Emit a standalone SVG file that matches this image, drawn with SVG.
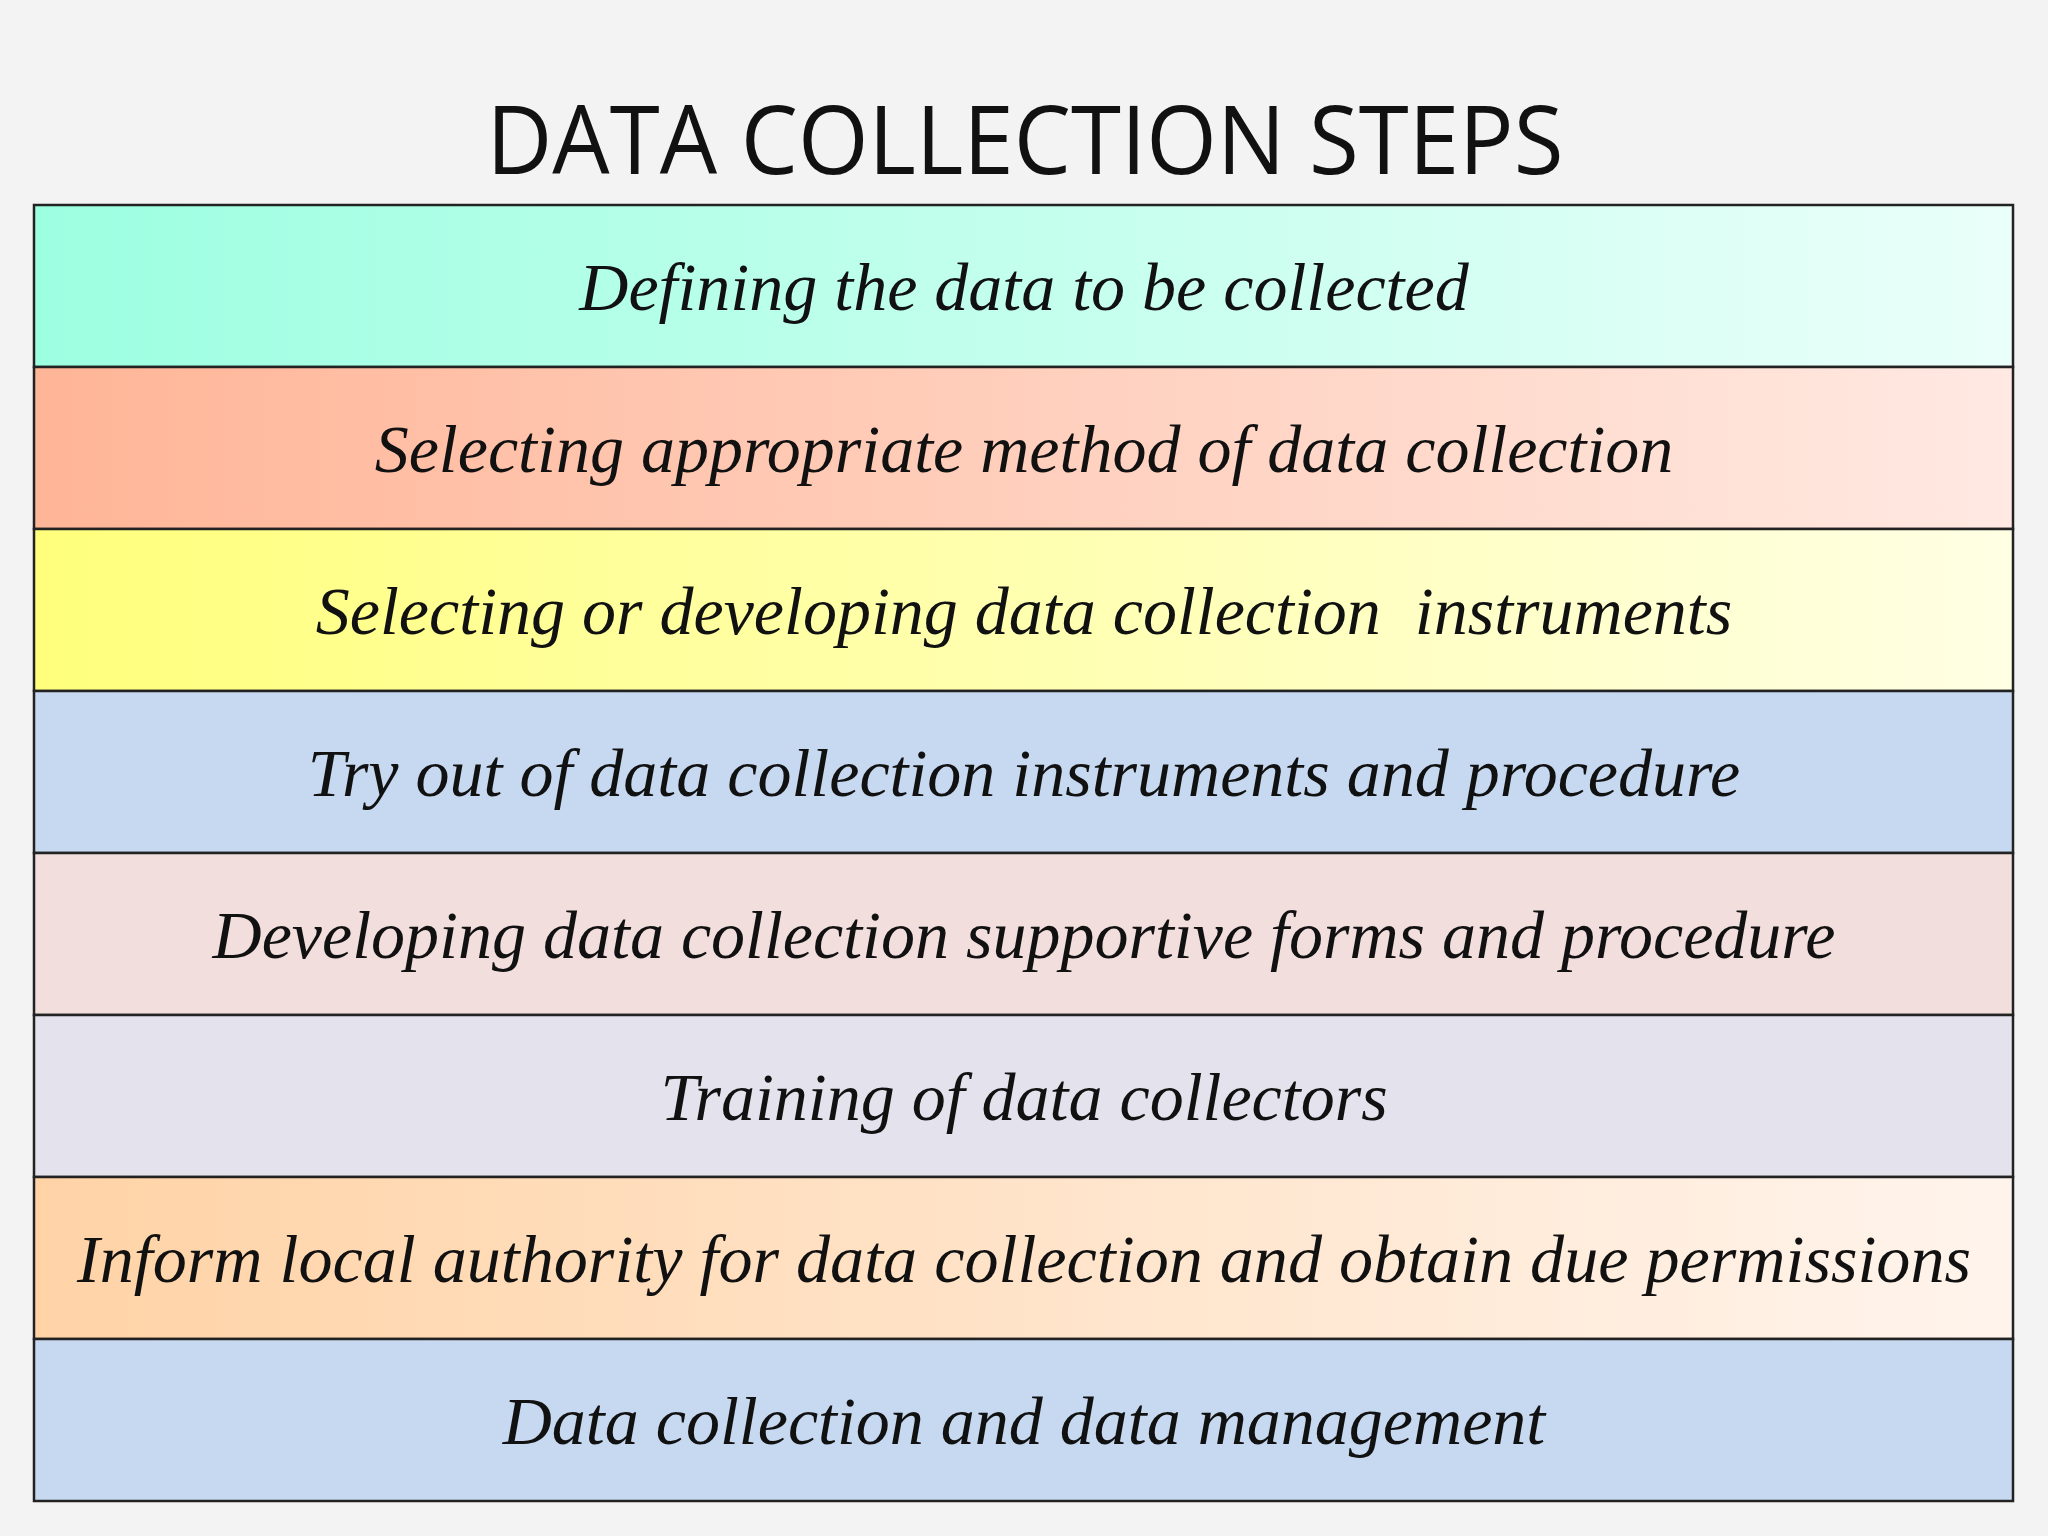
<svg xmlns="http://www.w3.org/2000/svg" width="2048" height="1536" viewBox="0 0 2048 1536">
<style>
.row{stroke:#222;stroke-width:2.5}
.t{font-family:"Liberation Serif",serif;font-style:italic;font-size:68px;fill:#111;text-anchor:middle}
</style>
<defs>
<linearGradient id="g1"><stop offset="0" stop-color="#9cffe0"/><stop offset="1" stop-color="#eafffa"/></linearGradient>
<linearGradient id="g2"><stop offset="0" stop-color="#ffb597"/><stop offset="1" stop-color="#ffe9e2"/></linearGradient>
<linearGradient id="g3"><stop offset="0" stop-color="#ffff7c"/><stop offset="1" stop-color="#ffffe4"/></linearGradient>
<linearGradient id="g7"><stop offset="0" stop-color="#ffd3a6"/><stop offset="1" stop-color="#fff4ec"/></linearGradient>
</defs>
<rect width="2048" height="1536" fill="#f3f3f3"/>
<text x="1025" y="174" font-family="'Open Sans',sans-serif" font-size="96" fill="#111" text-anchor="middle" textLength="1077" lengthAdjust="spacingAndGlyphs">DATA COLLECTION STEPS</text>
<g id="r1"><rect class="row" x="34" y="205" width="1979" height="162" fill="url(#g1)"/><text class="t" x="1024" y="310">Defining the data to be collected</text></g>
<g id="r2"><rect class="row" x="34" y="367" width="1979" height="162" fill="url(#g2)"/><text class="t" x="1024" y="472">Selecting appropriate method of data collection</text></g>
<g id="r3"><rect class="row" x="34" y="529" width="1979" height="162" fill="url(#g3)"/><text class="t" x="1024" y="634" xml:space="preserve">Selecting or developing data collection  instruments</text></g>
<g id="r4"><rect class="row" x="34" y="691" width="1979" height="162" fill="#c6d9f1"/><text class="t" x="1024" y="796">Try out of data collection instruments and procedure</text></g>
<g id="r5"><rect class="row" x="34" y="853" width="1979" height="162" fill="#f2dedd"/><text class="t" x="1024" y="958">Developing data collection supportive forms and procedure</text></g>
<g id="r6"><rect class="row" x="34" y="1015" width="1979" height="162" fill="#e4e2ec"/><text class="t" x="1024" y="1120">Training of data collectors</text></g>
<g id="r7"><rect class="row" x="34" y="1177" width="1979" height="162" fill="url(#g7)"/><text class="t" x="1024" y="1282" textLength="1894" lengthAdjust="spacingAndGlyphs">Inform local authority for data collection and obtain due permissions</text></g>
<g id="r8"><rect class="row" x="34" y="1339" width="1979" height="162" fill="#c6d9f1"/><text class="t" x="1024" y="1444">Data collection and data management</text></g>
<g id="connectors"/>
</svg>
